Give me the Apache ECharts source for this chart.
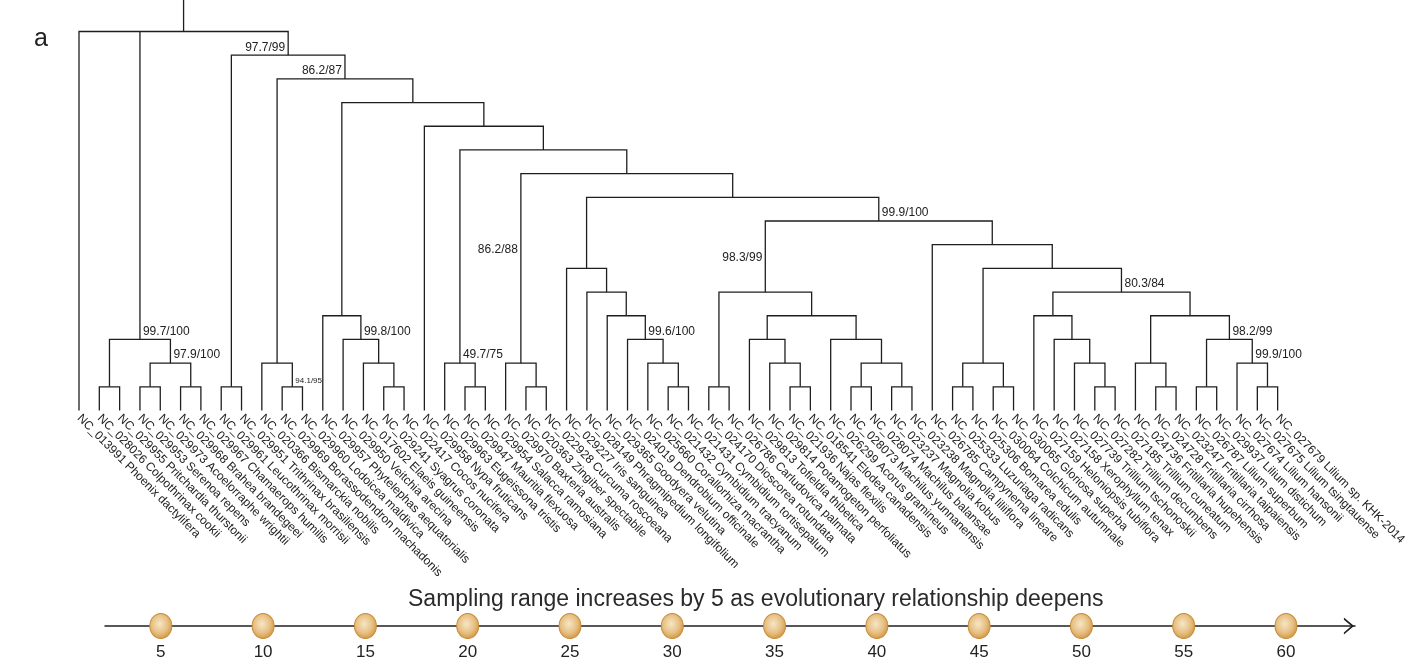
<!DOCTYPE html>
<html><head><meta charset="utf-8">
<script src="https://cdn.jsdelivr.net/npm/echarts@6/dist/echarts.min.js"></script>
<style>html,body{margin:0;padding:0;background:#fff}#chart{width:1409px;height:661px}</style>
</head><body><div id="chart"></div>
<script>
// ---------------- data ----------------
const leafIds = ['NC_013991','NC_028026','NC_029955','NC_029953','NC_029973','NC_029968','NC_029967','NC_029961','NC_029951','NC_020366',
  'NC_029969','NC_029960','NC_029957','NC_029950','NC_017602','NC_029241','NC_022417','NC_029958','NC_029963','NC_029947',
  'NC_029954','NC_029970','NC_020363','NC_022928','NC_029227','NC_028149','NC_029365','NC_024019','NC_025660','NC_021432',
  'NC_021431','NC_024170','NC_026786','NC_029813','NC_029814','NC_021936','NC_018541','NC_026299','NC_028073','NC_028074',
  'NC_023237','NC_023238','NC_026785','NC_025333','NC_025306','NC_030064','NC_030065','NC_027159','NC_027158','NC_027739',
  'NC_027282','NC_027185','NC_024736','NC_024728','NC_023247','NC_026787','NC_029937','NC_027674','NC_027675','NC_027679'];
const leafNames = ['Phoenix dactylifera','Colpothrinax cookii','Pritchardia thurstonii','Serenoa repens','Acoelorraphe wrightii',
  'Brahea brandegeei','Chamaerops humilis','Leucothrinax morrisii','Trithrinax brasiliensis','Bismarckia nobilis',
  'Borassodendron machadonis','Lodoicea maldivica','Phytelephas aequatorialis','Veitchia arecina','Elaeis guineensis',
  'Syagrus coronata','Cocos nucifera','Nypa fruticans','Eugeissona tristis','Mauritia flexuosa',
  'Salacca ramosiana','Baxteria australis','Zingiber spectabile','Curcuma roscoeana','Iris sanguinea',
  'Phragmipedium longifolium','Goodyera velutina','Dendrobium officinale','Corallorhiza macrantha','Cymbidium tracyanum',
  'Cymbidium tortisepalum','Dioscorea rotundata','Carludovica palmata','Tofieldia thibetica','Potamogeton perfoliatus',
  'Najas flexilis','Elodea canadensis','Acorus gramineus','Machilus yunnanensis','Machilus balansae',
  'Magnolia kobus','Magnolia liliiflora','Campynema lineare','Luzuriaga radicans','Bomarea edulis',
  'Colchicum autumnale','Gloriosa superba','Heloniopsis tubiflora','Xerophyllum tenax','Trillium tschonoskii',
  'Trillium decumbens','Trillium cuneatum','Fritillaria hupehensis','Fritillaria cirrhosa','Fritillaria taipaiensis',
  'Lilium superbum','Lilium distichum','Lilium hansonii','Lilium tsingtauense','Lilium sp. KHK-2014'];
// tree topology (leaf numbers refer to the arrays above)
const topology = [1, [[2,3],[[4,5],[6,7]]],
  [[8,9], [[10,[11,12]], [[13,[14,[15,[16,17]]]], [18, [[19,[20,21]], [[22,[23,24]],
    [[25,[26,[27,[28,[29,[30,31]]]]]],
      [[[32,33],[[34,[35,[36,37]]],[38,[[39,40],[41,42]]]]],
       [43, [[[44,45],[46,47]], [[48,[49,[50,[51,52]]]], [[53,[54,55]], [[56,57],[58,[59,60]]]]]]]]]]]]]]]];
// bootstrap support, keyed by first-last leaf of the clade
const supportValues = {
  '2-7':'99.7/100', '4-7':'97.9/100', '8-60':'97.7/99', '10-60':'86.2/87', '11-12':'94.1/95',
  '14-17':'99.8/100', '19-21':'49.7/75', '22-24':'86.2/88', '28-31':'99.6/100', '32-42':'98.3/99',
  '32-60':'99.9/100', '48-60':'80.3/84', '56-60':'98.2/99', '58-60':'99.9/100'
};
const timelineTicks = [5,10,15,20,25,30,35,40,45,50,55,60];
const timelineTitle = 'Sampling range increases by 5 as evolutionary relationship deepens';
const panelLetter = 'a';

// ---------------- style / placement ----------------
const FONT = '"Liberation Sans", Arial, Helvetica, sans-serif';
const INK = '#1e1e1e';
const LEAF_X0 = 79, LEAF_X1 = 1286, BASE_Y = 410.5, YMAX = 17.33;
const labelPlacement = { '8-60':['left'], '10-60':['left'], '22-24':['side',6.8], '32-42':['side',6.45] };
const smallLabels = { '11-12': 8 };

// ---------------- layout ----------------
function layout(n) {
  if (typeof n === 'number') return { x: n, h: 0, first: n, last: n, leaf: true };
  const kids = n.map(layout);
  const h = Math.max.apply(null, kids.map(k => k.h)) + 1;
  const a = kids[0], b = kids[kids.length - 1];
  return { kids, h, x: (a.x + b.x) / 2, first: a.first, last: b.last };
}
const root = layout(topology);
const segs = [];
const supports = [];
(function walk(n) {
  if (n.leaf) return;
  const a = n.kids[0], b = n.kids[n.kids.length - 1];
  segs.push([[a.x, a.h], [a.x, n.h], [b.x, n.h], [b.x, b.h]]);
  n.kids.slice(1, -1).forEach(k => segs.push([[k.x, k.h], [k.x, n.h]]));
  const key = n.first + '-' + n.last;
  if (supportValues[key]) {
    const pl = labelPlacement[key] || ['right'];
    supports.push({ x: n.x, y: pl[0] === 'side' ? pl[1] : n.h, mode: pl[0], text: supportValues[key], size: smallLabels[key] || 12 });
  }
  n.kids.forEach(k => walk(k));
})(root);
segs.push([[root.x, root.h], [root.x, YMAX]]);

const unit = (LEAF_X1 - LEAF_X0) / (leafIds.length - 1);
const TL_LEFT = 105, TL_RIGHT = 1355;

const chart = echarts.init(document.getElementById('chart'), null, { renderer: 'canvas' });
chart.setOption({
  backgroundColor: '#fff',
  animation: false,
  title: [
    { text: timelineTitle, left: 408, top: 588, padding: 0,
      textStyle: { fontFamily: FONT, fontSize: 23, fontWeight: 'normal', color: '#2a2a2a' } },
    { text: panelLetter, left: 34, top: 27, padding: 0,
      textStyle: { fontFamily: FONT, fontSize: 25, fontWeight: 'normal', color: '#222' } }
  ],
  grid: [
    { left: LEAF_X0, right: 1409 - LEAF_X1, top: 0, bottom: 661 - BASE_Y },
    { left: TL_LEFT, right: 1409 - TL_RIGHT, top: 616, height: 20 }
  ],
  xAxis: [
    { type: 'value', gridIndex: 0, min: 1, max: leafIds.length, interval: 1,
      axisLine: { show: false }, axisTick: { show: false }, splitLine: { show: false },
      axisLabel: { rotate: -45, margin: 6, fontSize: 12, fontFamily: FONT, color: '#222',
        formatter: v => leafIds[v - 1] + ' ' + leafNames[v - 1] } },
    { type: 'value', gridIndex: 1,
      min: 1 + (TL_LEFT - LEAF_X0) / unit, max: leafIds.length + (TL_RIGHT - LEAF_X1) / unit,
      axisLine: { show: true, onZero: true, lineStyle: { color: '#222', width: 1.5 },
        symbol: ['none', 'path://M0,12 L10,0 L20,12 L17.5,12 L10,3.2 L2.5,12 Z'], symbolSize: [17, 12], symbolOffset: [0, -6] },
      axisTick: { show: false }, axisLabel: { show: false }, splitLine: { show: false } }
  ],
  yAxis: [
    { type: 'value', gridIndex: 0, min: 0, max: YMAX, show: false, splitLine: { show: false } },
    { type: 'value', gridIndex: 1, min: -1, max: 1, show: false, splitLine: { show: false } }
  ],
  series: [
    { type: 'lines', coordinateSystem: 'cartesian2d', xAxisIndex: 0, yAxisIndex: 0, polyline: true, silent: true,
      lineStyle: { color: INK, width: 1.3, opacity: 1 },
      data: segs.map(c => ({ coords: c })) },
    { type: 'custom', xAxisIndex: 0, yAxisIndex: 0, silent: true,
      data: supports.map(s => [s.x, s.y]),
      renderItem: (params, api) => {
        const s = supports[params.dataIndex];
        const p = api.coord([s.x, s.y]);
        let x = p[0] + 3, y = p[1] - 2, align = 'left', va = 'bottom';
        if (s.mode === 'left') { x = p[0] - 3; align = 'right'; }
        if (s.mode === 'side') { x = p[0] - 3; y = p[1]; align = 'right'; va = 'middle'; }
        return { type: 'text', x, y, style: { text: s.text, fill: '#222', fontSize: s.size, fontFamily: FONT, align, verticalAlign: va } };
      } },
    { type: 'scatter', xAxisIndex: 1, yAxisIndex: 1, silent: true,
      symbol: 'circle', symbolSize: [22, 25],
      itemStyle: { color: { type: 'radial', x: 0.45, y: 0.42, r: 0.6,
          colorStops: [{ offset: 0, color: '#f7e6c6' }, { offset: 0.6, color: '#e6bf82' }, { offset: 1, color: '#d09440' }] },
        borderColor: '#c88b36', borderWidth: 1, opacity: 1 },
      label: { show: true, position: 'bottom', distance: 5, fontSize: 17, fontFamily: FONT, color: '#222',
        formatter: p => String(p.value[0]) },
      data: timelineTicks.map(t => [t, 0]) }
  ]
});
</script>
</body></html>
